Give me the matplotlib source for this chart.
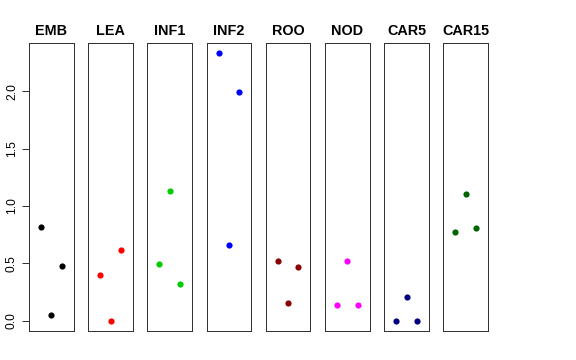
import numpy as np
import matplotlib
matplotlib.use("Agg")
import matplotlib.pyplot as plt

plt.rcParams['font.family'] = ['Liberation Sans', 'DejaVu Sans']

tissues = ["EMB", "LEA", "INF1", "INF2", "ROO", "NOD", "CAR5", "CAR15"]
colors = ["black", "#FF0000", "#00CD00", "#0000FF", "#8B0000", "#FF00FF", "#000080", "#006400"]
reps = [1, 2, 3]

emb = [0.82, 0.05, 0.48]
lea = [0.40, 0.00, 0.62]
inf1 = [0.49, 1.13, 0.32]
inf2 = [2.33, 0.66, 1.99]
roo = [0.52, 0.155, 0.47]
nod = [0.14, 0.52, 0.14]
car5 = [0.00, 0.21, 0.00]
car15 = [0.77, 1.10, 0.81]
values = [emb, lea, inf1, inf2, roo, nod, car5, car15]

W, H = 576, 360
fig = plt.figure(figsize=(W / 72, H / 72), dpi=72)

ymax = max(max(v) for v in values)
ypad = 0.04 * ymax

for i, (name, col, vals) in enumerate(zip(tissues, colors, values)):
    left = 29 + 59.2 * i
    ax = fig.add_axes([left / W, (H - 331.3) / H, 44.6 / W, 288.6 / H])
    ax.plot(reps, vals, 'o', color=col, ms=6.2, mec='none')
    ax.set_xlim(-0.16, 4.16)
    ax.set_ylim(-ypad, ymax + ypad)
    ax.set_xticks([])
    for s in ax.spines.values():
        s.set_color('#333333')
        s.set_linewidth(1)
    ax.set_title(name, fontsize=14.4, fontweight='bold', pad=8)
    if i == 0:
        ax.set_yticks([0, 0.5, 1.0, 1.5, 2.0])
        ax.set_yticklabels(["0.0", "0.5", "1.0", "1.5", "2.0"], rotation=90, va='center')
        ax.tick_params(axis='y', length=7, width=1, labelsize=12, pad=4, color='#333333')
    else:
        ax.set_yticks([])

fig.savefig("out.png", dpi=72)
